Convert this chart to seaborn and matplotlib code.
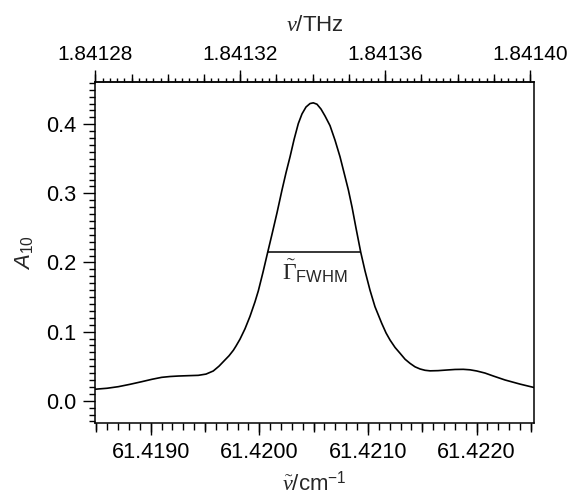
import numpy as np
import pandas as pd
import matplotlib
matplotlib.use("Agg")
import matplotlib.pyplot as plt
from matplotlib.ticker import MultipleLocator, FixedLocator, FormatStrFormatter, NullFormatter
import seaborn as sns

# absorption line
wavenumber = [61.418487, 61.418598, 61.418702, 61.418809, 61.418917, 61.419012,
              61.419101, 61.419178, 61.419254, 61.419343, 61.419438, 61.419509,
              61.419576, 61.419629, 61.419684, 61.419721, 61.419761, 61.419785,
              61.419822, 61.419868, 61.419914, 61.419960, 61.419991, 61.420034,
              61.420077, 61.420117, 61.420163, 61.420209, 61.420246, 61.420283,
              61.420320, 61.420359, 61.420393, 61.420430, 61.420467, 61.420497,
              61.420531, 61.420568, 61.420605, 61.420651, 61.420697, 61.420743,
              61.420780, 61.420820, 61.420854, 61.420890, 61.420934, 61.420973,
              61.421019, 61.421065, 61.421127, 61.421167, 61.421204, 61.421250,
              61.421296, 61.421342, 61.421388, 61.421434, 61.421480, 61.421526,
              61.421572, 61.421646, 61.421726, 61.421802, 61.421878, 61.421940,
              61.422002, 61.422078, 61.422155, 61.422262, 61.422401, 61.422532]
absorbance = [0.0166, 0.0180, 0.0203, 0.0237, 0.0275, 0.0310,
              0.0338, 0.0350, 0.0357, 0.0362, 0.0367, 0.0385,
              0.0430, 0.0500, 0.0590, 0.0650, 0.0730, 0.0790,
              0.0890, 0.1040, 0.1220, 0.1430, 0.1590, 0.1860,
              0.2147, 0.2410, 0.2720, 0.3050, 0.3300, 0.3530,
              0.3780, 0.4010, 0.4150, 0.4250, 0.4300, 0.4310,
              0.4290, 0.4220, 0.4120, 0.3980, 0.3770, 0.3530,
              0.3300, 0.3050, 0.2800, 0.2500, 0.2147, 0.1880,
              0.1600, 0.1360, 0.1120, 0.0980, 0.0877, 0.0770,
              0.0686, 0.0600, 0.0540, 0.0490, 0.0459, 0.0440,
              0.0432, 0.0435, 0.0444, 0.0452, 0.0454, 0.0447,
              0.0430, 0.0400, 0.0357, 0.0300, 0.0240, 0.0190]

# full width at half maximum marker
fwhm_left = 61.420077
fwhm_right = 61.420934
fwhm_level = 0.2147
fwhm_label = r'$\tilde{\Gamma}_{\mathsf{FWHM}}$'

# tick labels
bottom_ticks = [61.4190, 61.4200, 61.4210, 61.4220]
top_ticks = [1.84128, 1.84132, 1.84136, 1.84140]
y_ticks = [0.0, 0.1, 0.2, 0.3, 0.4]

c_thz = 0.0299792458  # THz per cm^-1

x_range = (61.418487, 61.422532)
y_range = (-0.0327, 0.4616)

sns.set_style("ticks")
plt.rcParams['font.family'] = ['Liberation Sans', 'DejaVu Sans']
plt.rcParams['mathtext.fontset'] = 'custom'
plt.rcParams['mathtext.rm'] = 'Liberation Serif'
plt.rcParams['mathtext.it'] = 'Liberation Serif:italic'
plt.rcParams['mathtext.sf'] = 'Liberation Sans'
plt.rcParams['mathtext.bf'] = 'Liberation Sans:italic'
plt.rcParams['axes.linewidth'] = 1.1
plt.rcParams['xtick.color'] = 'black'
plt.rcParams['ytick.color'] = 'black'

fig = plt.figure(figsize=(5.72, 4.97), dpi=100)
ax = fig.add_axes([95 / 572, 1 - 423.3 / 497, (534.3 - 95) / 572, (423.3 - 81.7) / 497])

df = pd.DataFrame({"wn": wavenumber, "A": absorbance})
sns.lineplot(data=df, x="wn", y="A", color="black", lw=1.2, ax=ax)
ax.hlines(fwhm_level, fwhm_left, fwhm_right, color="black", lw=1.1)
ax.text((fwhm_left + fwhm_right) / 2 + 0.000003, fwhm_level - 0.008, fwhm_label,
        ha="center", va="top", fontsize=17)

ax.set_xlim(*x_range)
ax.set_ylim(*y_range)
for s in ax.spines.values():
    s.set_color("black")

# bottom axis
ax.xaxis.set_major_locator(FixedLocator(bottom_ticks))
ax.xaxis.set_minor_locator(MultipleLocator(0.0001))
ax.xaxis.set_major_formatter(FormatStrFormatter('%.4f'))
ax.yaxis.set_major_locator(FixedLocator(y_ticks))
ax.yaxis.set_minor_locator(MultipleLocator(0.01))
ax.yaxis.set_major_formatter(FormatStrFormatter('%.1f'))
ax.tick_params(which="both", top=False, right=False, direction="out", width=1.0)
ax.tick_params(which="major", length=8.5, labelsize=15.7, pad=5)
ax.tick_params(axis="x", which="minor", length=5)
ax.tick_params(axis="y", which="minor", length=4.5)

ax.set_xlabel(r'$\tilde{\nu}$/cm$^{\mathsf{-1}}$', fontsize=16, labelpad=6)
ax.set_ylabel(r'$\mathbf{A}_{\mathsf{10}}$', fontsize=16, labelpad=8)

# medium ticks on the bottom axis
mid = ax.secondary_xaxis('bottom', functions=(lambda w: w, lambda w: w))
mid.xaxis.set_major_locator(MultipleLocator(0.0005))
mid.xaxis.set_major_formatter(NullFormatter())
mid.tick_params(which="major", length=6.8, width=1.0, direction="out")
mid.spines['bottom'].set_visible(False)

# top axis in THz
top = ax.secondary_xaxis('top', functions=(lambda w: w * c_thz, lambda n: n / c_thz))
top.xaxis.set_major_locator(FixedLocator(top_ticks))
top.xaxis.set_minor_locator(MultipleLocator(0.000002))
top.xaxis.set_major_formatter(FormatStrFormatter('%.5f'))
top.tick_params(which="major", length=8.5, width=1.0, labelsize=15, pad=4, direction="out")
top.tick_params(which="minor", length=3, width=1.0, direction="out")
top.set_xlabel(r'$\nu$/THz', fontsize=16, labelpad=10)

top_mid = ax.secondary_xaxis('top', functions=(lambda w: w * c_thz, lambda n: n / c_thz))
top_mid.xaxis.set_major_locator(MultipleLocator(0.00001))
top_mid.xaxis.set_major_formatter(NullFormatter())
top_mid.tick_params(which="major", length=6, width=1.0, direction="out")
top_mid.spines['top'].set_visible(False)

fig.savefig("out.png", dpi=100)
